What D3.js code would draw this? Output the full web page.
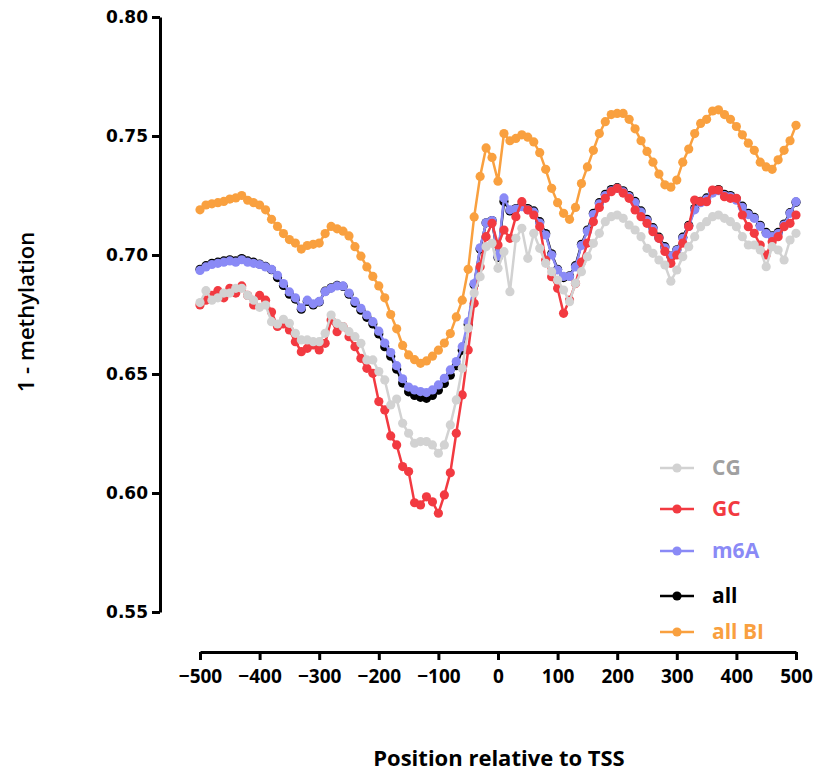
<!DOCTYPE html>
<html><head><meta charset="utf-8">
<script src="https://cdn.jsdelivr.net/npm/d3@7"></script>
<style>
html,body{margin:0;padding:0;background:#fff;}
svg{display:block;}
</style></head>
<body>
<svg id="chart" width="817" height="774"></svg>
<script>
// ---- data ----
const positions = [-500,-490,-480,-470,-460,-450,-440,-430,-420,-410,-400,-390,-380,-370,-360,-350,-340,-330,-320,-310,-300,-290,-280,-270,-260,-250,-240,-230,-220,-210,-200,-190,-180,-170,-160,-150,-140,-130,-120,-110,-100,-90,-80,-70,-60,-50,-40,-30,-20,-10,0,10,20,30,40,50,60,70,80,90,100,110,120,130,140,150,160,170,180,190,200,210,220,230,240,250,260,270,280,290,300,310,320,330,340,350,360,370,380,390,400,410,420,430,440,450,460,470,480,490,500];

const cgValues = [0.680,0.685,0.681,0.682,0.684,0.684,0.686,0.686,0.683,0.681,0.678,0.679,0.672,0.671,0.673,0.6713,0.6671,0.6643,0.6643,0.6636,0.6636,0.6671,0.6748,0.6713,0.6699,0.6678,0.6657,0.6629,0.6559,0.6559,0.651,0.6475,0.637,0.6395,0.6293,0.6251,0.6209,0.6216,0.6216,0.6202,0.6167,0.6202,0.6286,0.6391,0.6524,0.6692,0.684,0.6909,0.7035,0.7049,0.6944,0.7014,0.6846,0.707,0.7112,0.6986,0.7091,0.7028,0.6965,0.693,0.6895,0.6853,0.6804,0.6881,0.693,0.6993,0.7049,0.7091,0.714,0.7161,0.7168,0.7154,0.7126,0.7105,0.7077,0.7028,0.7007,0.6979,0.6958,0.689,0.6937,0.6993,0.7035,0.7077,0.7119,0.714,0.7161,0.7168,0.7154,0.714,0.7119,0.7077,0.7042,0.7042,0.7021,0.6951,0.7035,0.7021,0.6979,0.7063,0.7091];

const gcValues = [0.679,0.681,0.683,0.685,0.682,0.686,0.684,0.687,0.683,0.679,0.683,0.681,0.676,0.670,0.671,0.6685,0.6636,0.6594,0.6608,0.6622,0.6601,0.6629,0.6727,0.6678,0.6699,0.6657,0.6615,0.6566,0.6524,0.6503,0.6384,0.6349,0.624,0.6202,0.6111,0.609,0.5959,0.595,0.5984,0.5963,0.5915,0.5992,0.6085,0.6251,0.6412,0.6601,0.6797,0.6951,0.7077,0.7133,0.7042,0.7105,0.707,0.7161,0.7224,0.7189,0.7168,0.7119,0.6979,0.6909,0.686,0.6755,0.6811,0.688,0.697,0.705,0.714,0.720,0.7238,0.7266,0.728,0.726,0.7238,0.7189,0.7161,0.7133,0.7098,0.707,0.7015,0.6965,0.700,0.705,0.712,0.7231,0.7224,0.7224,0.7273,0.7273,0.7245,0.7238,0.7238,0.7168,0.7119,0.7091,0.7042,0.700,0.7056,0.7077,0.7119,0.7133,0.7168];

const m6aValues = [0.6935,0.695,0.696,0.6965,0.697,0.6975,0.697,0.698,0.697,0.6965,0.696,0.695,0.694,0.6915,0.688,0.6845,0.682,0.6778,0.681,0.6795,0.6805,0.6846,0.686,0.687,0.687,0.684,0.6805,0.6776,0.6748,0.672,0.668,0.663,0.659,0.6535,0.648,0.6445,0.6433,0.6426,0.6422,0.6433,0.6454,0.6482,0.6517,0.6552,0.6615,0.672,0.688,0.703,0.7135,0.7145,0.6995,0.724,0.719,0.7193,0.7203,0.719,0.718,0.7134,0.7084,0.700,0.6937,0.691,0.691,0.695,0.704,0.710,0.717,0.7215,0.725,0.727,0.728,0.7265,0.7245,0.722,0.718,0.7145,0.711,0.707,0.703,0.6995,0.702,0.707,0.712,0.719,0.722,0.7235,0.726,0.727,0.725,0.7245,0.723,0.720,0.717,0.7154,0.712,0.709,0.7077,0.709,0.7126,0.7175,0.7224];

const allValues = [0.694,0.6955,0.6965,0.697,0.6975,0.698,0.6975,0.6985,0.6975,0.697,0.6962,0.6952,0.6938,0.6905,0.6872,0.6835,0.6815,0.6772,0.6805,0.679,0.6803,0.6848,0.6862,0.6872,0.6868,0.6835,0.6798,0.6768,0.6738,0.671,0.6668,0.6615,0.6575,0.652,0.6462,0.6425,0.641,0.6402,0.6398,0.641,0.6432,0.646,0.6495,0.6535,0.660,0.6708,0.6875,0.7025,0.7135,0.7145,0.699,0.7225,0.7185,0.7195,0.7208,0.7195,0.7185,0.714,0.709,0.7005,0.694,0.6905,0.6912,0.6955,0.7045,0.7105,0.7175,0.722,0.7255,0.7275,0.7283,0.727,0.725,0.7225,0.7185,0.715,0.7115,0.7075,0.7035,0.6995,0.7022,0.7075,0.7125,0.7195,0.7225,0.724,0.7265,0.7275,0.7255,0.725,0.7235,0.7205,0.7175,0.7158,0.7125,0.7095,0.708,0.7095,0.713,0.7178,0.7222];

const allBIValues = [0.719,0.721,0.7215,0.722,0.7225,0.7235,0.724,0.725,0.723,0.722,0.721,0.719,0.715,0.712,0.709,0.7065,0.705,0.7025,0.704,0.7045,0.705,0.709,0.712,0.711,0.710,0.708,0.7035,0.6995,0.695,0.691,0.687,0.682,0.675,0.669,0.662,0.658,0.656,0.6545,0.6555,0.6575,0.660,0.663,0.667,0.674,0.681,0.694,0.716,0.733,0.745,0.741,0.731,0.751,0.748,0.749,0.7505,0.7495,0.7475,0.743,0.736,0.728,0.722,0.7175,0.715,0.720,0.730,0.737,0.744,0.751,0.756,0.759,0.7595,0.7595,0.757,0.753,0.748,0.7435,0.739,0.734,0.7295,0.7285,0.7315,0.739,0.7445,0.751,0.7553,0.757,0.7605,0.761,0.759,0.757,0.754,0.7505,0.747,0.744,0.739,0.737,0.736,0.740,0.744,0.748,0.7545];

const yTicks = [0.55,0.60,0.65,0.70,0.75,0.80];
const xTicks = [-500,-400,-300,-200,-100,0,100,200,300,400,500];

const seriesNames = ["CG","GC","m6A","all","all BI"];
const seriesColors = ["#d2d2d2","#f23a41","#8a8af6","#000000","#f9a03f"];
const legendTextColors = ["#a0a0a0","#f23a41","#8a8af6","#000000","#f9a03f"];
const seriesValues = [cgValues,gcValues,m6aValues,allValues,allBIValues];
// drawing order (bottom to top)
const drawOrder = [3,2,1,0,4];

// ---- chart ----
const svg = d3.select("#chart");
const x = d3.scaleLinear().domain([-500,500]).range([200,796]);
const y = d3.scaleLinear().domain([0.55,0.80]).range([612,17]);

const tickFont = "'DejaVu Sans', Verdana, sans-serif";
const labelFont = "'Open Sans', Lato, sans-serif";

// y axis
const yAxis = svg.append("g").attr("transform","translate(160,0)")
  .call(d3.axisLeft(y).tickValues(yTicks).tickFormat(d3.format(".2f")).tickSize(8).tickSizeOuter(0));
yAxis.select(".domain").attr("stroke","#000").attr("stroke-width",3);
yAxis.selectAll(".tick line").attr("stroke","#000").attr("stroke-width",3);
yAxis.selectAll(".tick text").attr("font-family",tickFont).attr("font-weight","bold")
  .attr("font-size",17).attr("fill","#000").attr("x",-12);

// x axis
const xAxis = svg.append("g").attr("transform","translate(0,652)")
  .call(d3.axisBottom(x).tickValues(xTicks).tickFormat(d3.format("d")).tickSize(8).tickSizeOuter(0));
xAxis.select(".domain").attr("stroke","#000").attr("stroke-width",3);
xAxis.selectAll(".tick text").attr("font-family",labelFont).attr("font-weight","bold")
  .attr("font-size",19).attr("fill","#000").attr("y",18);
xAxis.selectAll(".tick line").attr("stroke","#000").attr("stroke-width",3);

// axis titles
svg.append("text").attr("x",499).attr("y",766).attr("text-anchor","middle")
  .attr("font-family",labelFont).attr("font-weight","bold").attr("font-size",22)
  .attr("fill","#000").text("Position relative to TSS");
svg.append("text").attr("transform","translate(34,312) rotate(-90)").attr("text-anchor","middle")
  .attr("font-family",labelFont).attr("font-weight","600").attr("font-size",22)
  .attr("fill","#000").text("1 - methylation");

// series
const line = d3.line().x((d,i)=>x(positions[i])).y(d=>y(d));
drawOrder.forEach(si=>{
  const g = svg.append("g");
  g.append("path").datum(seriesValues[si]).attr("d",line)
    .attr("fill","none").attr("stroke",seriesColors[si]).attr("stroke-width",2.5);
  g.selectAll("circle").data(seriesValues[si]).join("circle")
    .attr("cx",(d,i)=>x(positions[i])).attr("cy",d=>y(d)).attr("r",4.6)
    .attr("fill",seriesColors[si]);
});

// legend
const legendY = [468,509,551,596,632];
seriesNames.forEach((name,i)=>{
  const g = svg.append("g").attr("transform",`translate(0,${legendY[i]})`);
  g.append("line").attr("x1",660).attr("x2",694).attr("y1",0).attr("y2",0)
    .attr("stroke",seriesColors[i]).attr("stroke-width",2.5);
  g.append("circle").attr("cx",677).attr("cy",0).attr("r",4.6).attr("fill",seriesColors[i]);
  g.append("text").attr("x",712).attr("y",0).attr("dy","0.35em")
    .attr("font-family",labelFont).attr("font-weight","bold").attr("font-size",21)
    .attr("fill",legendTextColors[i]).text(name);
});
</script>
</body></html>
